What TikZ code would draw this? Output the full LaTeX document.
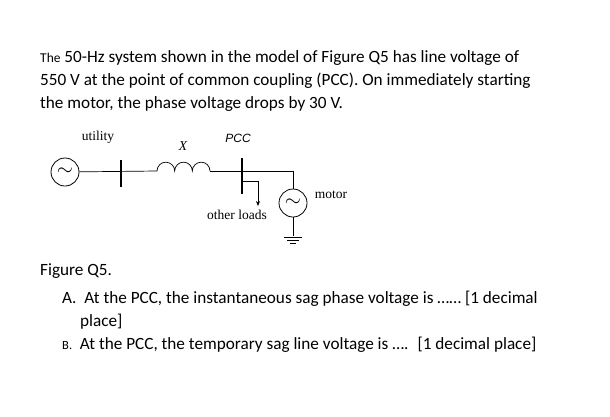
\documentclass[tikz,border=0pt]{standalone}
\usepackage{fontspec}
\setmainfont{Carlito}
\newfontfamily\serif{Liberation Serif}
\newfontfamily\sans{Liberation Sans}
\usetikzlibrary{arrows.meta,decorations.pathmorphing}
\tikzset{
  txt/.style={anchor=base west,inner sep=0pt,font=\fontsize{17.2}{19}\selectfont},
  lbl/.style={inner sep=0pt,font=\serif\fontsize{13.5}{15}\selectfont},
  gen/.style={draw,circle,minimum size=28pt,inner sep=0pt,line width=0.8pt,font=\fontsize{22}{24}\selectfont},
  bus/.style={line width=1.3pt},
  wire/.style={line width=0.7pt}
}
\begin{document}
\begin{tikzpicture}[x=1pt,y=-1pt]
  \useasboundingbox (0,0) rectangle (610,416);
  % question text
  \node[txt] (l1) at (40,62) {{\fontsize{13.5}{14}\selectfont The} 50-Hz system shown in the model of Figure Q5 has line voltage of};
  \node[txt] (l2) at (40,85) {550 V at the point of common coupling (PCC). On immediately starting};
  \node[txt] (l3) at (40,108) {the motor, the phase voltage drops by 30 V.};
  % one-line diagram
  \node[gen] (util) at (65,172) {$\sim$};
  \node[gen] (motor) at (293,203) {$\sim$};
  \coordinate (b1t) at (121,160);
  \coordinate (b1b) at (121,187);
  \coordinate (b2t) at (242,158);
  \coordinate (b2b) at (242,194);
  \draw[bus] (b1t) -- (b1b);
  \draw[bus] (b2t) -- (b2b);
  \coordinate (xa) at (157,171);
  \coordinate (xb) at (210,171);
  \coordinate (mtop) at (293,171);
  \coordinate (br) at (258,181);
  \coordinate (ld) at (258,206);
  \coordinate (gnd) at (293,236);
  \draw[wire] (util) -- (xa);
  \draw[wire] (xa) arc[start angle=180,end angle=0,radius=26.5pt/3]
    arc[start angle=180,end angle=0,radius=26.5pt/3]
    arc[start angle=180,end angle=0,radius=26.5pt/3];
  \draw[wire] (xb) -- (mtop) -- (motor);
  \draw[wire,-{Stealth[length=5pt,width=4pt]}] (242,181) -- (br) -- (ld);
  \draw[wire] (motor) -- (gnd);
  \draw[wire] (284,237) -- (302,237) (287,240) -- (299,240) (290,243) -- (296,243);
  \node[lbl] (utl) at (98,137) {utility};
  \node[lbl,font=\serif\itshape\fontsize{13.5}{15}\selectfont] (xl) at (183,146) {X};
  \node[lbl,font=\sans\itshape\fontsize{12}{14}\selectfont] (pcc) at (238,138) {PCC};
  \node[lbl] (ol) at (237,215) {other loads};
  \node[lbl] (ml) at (331,195) {motor};
  % questions
  \node[txt] (fig) at (40,275) {Figure Q5.};
  \node[txt] (qa) at (62,303) {A.\ \ At the PCC, the instantaneous sag phase voltage is …… [1 decimal};
  \node[txt] (qa2) at (80,326) {place]};
  \node[txt] (qb) at (62,349) {{\fontsize{12.5}{13}\selectfont B.}\ \ At the PCC, the temporary sag line voltage is …. \ [1 decimal place]};
\end{tikzpicture}
\end{document}
